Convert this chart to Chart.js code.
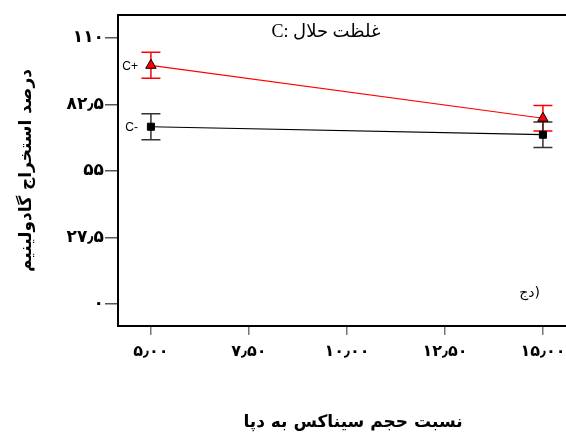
<!DOCTYPE html>
<html>
<head>
<meta charset="utf-8">
<script src="https://cdn.jsdelivr.net/npm/chart.js@4/dist/chart.umd.min.js"></script>
<style>
    html, body { margin: 0; padding: 0; background: #fff; overflow: hidden; }
    #wrap { width: 595px; height: 434px; position: relative; }
</style>
</head>
<body>
<div id="wrap"><canvas id="interactionChart"></canvas></div>
<script>
// Solvent / extractant ratio levels and mean extraction (%) with error bars
const xLevels = [5, 15];
const cPlus = [98.7, 76.8];
const cPlusErr = [5.4, 5.3];
const cMinus = [73.3, 70.0];
const cMinusErr = [5.4, 5.3];
const seriesLabels = ['C+', 'C-'];

const xTicks = [5, 7.5, 10, 12.5, 15];
const yTicks = [0, 27.5, 55, 82.5, 110];

const chartTitle = 'C: غلظت حلال';
const panelLabel = 'دج)';
const xTitle = 'نسبت حجم سیناکس به دپا';
const yTitle = 'درصد استخراج گادولینیم';

const faFont = '"DejaVu Sans", sans-serif';

// Persian digits with the Arabic decimal separator
function toFa(value, decimals) {
    const digits = '۰۱۲۳۴۵۶۷۸۹';
    let s = decimals == null ? String(value) : value.toFixed(decimals);
    return s.replace(/[0-9]/g, d => digits[+d]).replace('.', '٫');
}

function toPoints(values) {
    return xLevels.map((x, i) => ({ x: x, y: values[i] }));
}

// Vertical error bars with caps, drawn under the markers
const errorBars = {
    id: 'errorBars',
    beforeDatasetsDraw(chart) {
        const ctx = chart.ctx;
        const yScale = chart.scales.y;
        chart.data.datasets.forEach((ds, di) => {
            const meta = chart.getDatasetMeta(di);
            ctx.save();
            ctx.strokeStyle = ds.errorColor;
            ctx.lineWidth = 1.5;
            meta.data.forEach((pt, i) => {
                const v = ds.data[i].y;
                const e = ds.errors[i];
                const top = yScale.getPixelForValue(v + e);
                const bottom = yScale.getPixelForValue(v - e);
                ctx.beginPath();
                ctx.moveTo(pt.x, top);
                ctx.lineTo(pt.x, bottom);
                ctx.moveTo(pt.x - 9.5, top);
                ctx.lineTo(pt.x + 9.5, top);
                ctx.moveTo(pt.x - 9.5, bottom);
                ctx.lineTo(pt.x + 9.5, bottom);
                ctx.stroke();
            });
            ctx.restore();
        });
    }
};

// Frame top, heading, series tags and panel letter
const annotations = {
    id: 'annotations',
    afterDraw(chart) {
        const ctx = chart.ctx;
        const area = chart.chartArea;
        ctx.save();
        ctx.strokeStyle = '#000';
        ctx.lineWidth = 2;
        ctx.beginPath();
        ctx.moveTo(area.left - 1, area.top);
        ctx.lineTo(area.right, area.top);
        ctx.stroke();

        ctx.fillStyle = '#000';
        ctx.direction = 'ltr';
        ctx.textBaseline = 'middle';
        ctx.textAlign = 'center';
        ctx.font = '18px "Liberation Serif", ' + faFont;
        ctx.fillText(chartTitle, area.left + 208, area.top + 17);

        ctx.font = '12px "Liberation Sans", Arial, sans-serif';
        ctx.textAlign = 'right';
        chart.data.datasets.forEach((ds, di) => {
            const pt = chart.getDatasetMeta(di).data[0];
            ctx.fillText(ds.label, pt.x - 13, pt.y + 1);
        });

        ctx.font = '14px ' + faFont;
        ctx.textAlign = 'right';
        ctx.fillText(panelLabel, area.left + 422, area.top + 278);
        ctx.restore();
    }
};

new Chart(document.getElementById('interactionChart'), {
    type: 'scatter',
    data: {
        datasets: [
            {
                label: seriesLabels[0],
                data: toPoints(cPlus),
                errors: cPlusErr,
                errorColor: '#ff0000',
                showLine: true,
                borderColor: '#ff0000',
                borderWidth: 1.2,
                pointStyle: 'triangle',
                pointRadius: 6,
                pointBackgroundColor: '#ff0000',
                pointBorderColor: '#000',
                pointBorderWidth: 1
            },
            {
                label: seriesLabels[1],
                data: toPoints(cMinus),
                errors: cMinusErr,
                errorColor: '#333',
                showLine: true,
                borderColor: '#000',
                borderWidth: 1.2,
                pointStyle: 'rect',
                pointRadius: 5,
                pointBackgroundColor: '#000',
                pointBorderColor: '#000',
                pointBorderWidth: 1
            }
        ]
    },
    options: {
        responsive: true,
        maintainAspectRatio: false,
        animation: false,
        layout: { padding: { top: 15, right: 3, left: 0, bottom: 0 } },
        plugins: {
            legend: { display: false },
            tooltip: { enabled: false }
        },
        scales: {
            x: {
                type: 'linear',
                min: 4.16,
                max: 16.15,
                afterBuildTicks: scale => { scale.ticks = xTicks.map(v => ({ value: v })); },
                afterFit: scale => { scale.height = 108; },
                border: { display: true, color: '#000', width: 2 },
                grid: { drawOnChartArea: false, drawTicks: true, tickLength: 9, color: '#777', lineWidth: 1.5 },
                ticks: {
                    color: '#000',
                    padding: 7,
                    maxRotation: 0,
                    font: { family: faFont, size: 16, weight: 'bold' },
                    callback: v => toFa(v, 2)
                },
                title: {
                    display: true,
                    text: xTitle,
                    color: '#000',
                    padding: { top: 0, bottom: 1 },
                    font: { family: faFont, size: 17, weight: 'bold' }
                }
            },
            y: {
                type: 'linear',
                min: -9.1,
                max: 119.5,
                afterBuildTicks: scale => { scale.ticks = yTicks.map(v => ({ value: v })); },
                afterFit: scale => { scale.width = 118; },
                border: { display: true, color: '#000', width: 2 },
                grid: { drawOnChartArea: false, drawTicks: true, tickLength: 13, color: '#555', lineWidth: 1.5 },
                ticks: {
                    color: '#000',
                    padding: 1,
                    font: { family: faFont, size: 17, weight: 'bold' },
                    callback: v => toFa(v)
                },
                title: {
                    display: true,
                    text: yTitle,
                    color: '#000',
                    padding: { top: 16, bottom: 0 },
                    font: { family: faFont, size: 17, weight: 'bold' }
                }
            }
        }
    },
    plugins: [errorBars, annotations]
});
</script>
</body>
</html>
